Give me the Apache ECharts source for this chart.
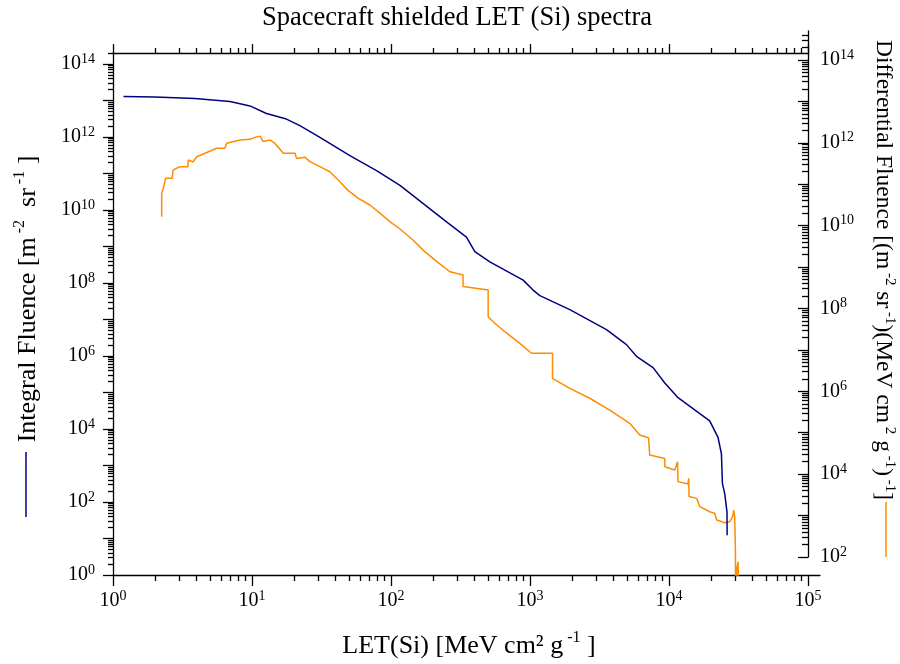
<!DOCTYPE html>
<html>
<head>
<meta charset="utf-8">
<script src="https://cdn.jsdelivr.net/npm/echarts@6/dist/echarts.min.js"></script>
<style>html,body{margin:0;padding:0;background:#fff;}#chart{width:900px;height:664px;}</style>
</head>
<body>
<div id="chart"></div>
<script>
// ---- data ----
const integralLET = [1.19, 2.0, 3.89, 6.94, 9.67, 12.7, 17.7, 22.1, 30.8, 50.6, 78.7, 116, 251, 349, 401, 514, 893, 1052, 1177, 1934, 3550, 4943, 5833, 7680, 9330, 11620, 15740, 19630, 22530, 23830, 24230, 25170, 26140, 26200];
const integralFluence = [1.28e13, 1.24e13, 1.13e13, 9.4e12, 7.1e12, 4.4e12, 3.1e12, 2.04e12, 9.8e11, 3.1e11, 1.2e11, 4.7e10, 4.7e9, 1.8e9, 7.2e8, 3.8e8, 1.2e8, 6.4e7, 4.5e7, 1.86e7, 5.3e6, 2.05e6, 9.8e5, 4.8e5, 1.82e5, 7.2e4, 3.1e4, 1.67e4, 5.9e3, 2.1e3, 320, 170, 53, 12.3];

const diffLET = [2.24, 2.24, 2.30, 2.39, 2.66, 2.71, 3.03, 3.46, 3.48, 3.76, 4.0, 4.59, 5.57, 6.39, 6.57, 8.19, 9.67, 10.5, 11.4, 12.05, 13.5, 14.6, 16.8, 20.4, 20.9, 24.0, 26.1, 30.8, 36.3, 42.9, 48.9, 57.8, 70.5, 83.2, 98.2, 116, 144, 175, 214, 265, 330, 330, 500, 500, 558, 659, 845, 1025, 1452, 1452, 1934, 2692, 3750, 5220, 6160, 7120, 7210, 7270, 9330, 9330, 11020, 11520, 11620, 13640, 13870, 13940, 15850, 16640, 19650, 21330, 21880, 22050, 25170, 27350, 28710, 29180, 29700, 30050, 30200, 30700, 31390, 31740];
const diffFluence = [1.65e10, 6.0e10, 8.0e10, 1.39e11, 1.39e11, 2.2e11, 2.65e11, 2.65e11, 3.85e11, 3.45e11, 4.6e11, 5.6e11, 7.4e11, 7.4e11, 9.7e11, 1.17e12, 1.21e12, 1.35e12, 1.45e12, 1.07e12, 1.17e12, 9.7e11, 5.6e11, 5.6e11, 4.2e11, 4.5e11, 3.5e11, 2.65e11, 2.0e11, 1.15e11, 7.2e10, 4.6e10, 3.15e10, 2.0e10, 1.25e10, 8.3e9, 4.5e9, 2.35e9, 1.35e9, 7.7e8, 6.4e8, 3.4e8, 2.8e8, 6.3e7, 4.4e7, 2.75e7, 1.44e7, 8.3e6, 8.3e6, 2.06e6, 1.18e6, 6.8e5, 3.5e5, 1.69e5, 8.8e4, 7.6e4, 7.3e4, 2.9e4, 2.4e4, 1.51e4, 1.26e4, 2.0e4, 6.6e3, 5.8e3, 7.9e3, 2.9e3, 2.6e3, 1.64e3, 1.24e3, 1.14e3, 1.22e3, 780, 673, 711, 940, 1360, 940, 134, 10, 48.5, 77, 10];

const xMajor = [1, 10, 100, 1e3, 1e4, 1e5];
const xMinor = [];
for (let e = 0; e < 5; e++) for (let m = 2; m <= 9; m++) xMinor.push(m * Math.pow(10, e));
const yLeftMajor = [];
const yLeftLabels = [];
const yLeftMinor = [];
for (let e = 0; e <= 14; e++) { yLeftMajor.push(Math.pow(10, e)); if (e % 2 === 0) yLeftLabels.push(Math.pow(10, e)); }
for (let e = 0; e <= 14; e++) for (let m = 2; m <= 9; m++) { const v = m * Math.pow(10, e); if (v <= 2e14) yLeftMinor.push(v); }
const yRightMajor = [];
const yRightLabels = [];
const yRightMinor = [];
for (let e = 2; e <= 14; e++) { yRightMajor.push(Math.pow(10, e)); if (e % 2 === 0) yRightLabels.push(Math.pow(10, e)); }
for (let e = 2; e <= 14; e++) for (let m = 2; m <= 9; m++) { const v = m * Math.pow(10, e); if (v <= 5e14) yRightMinor.push(v); }

// ---- layout ----
const FONT = 'Liberation Serif';
const PL = 113, PR = 808, PT = 53, PB = 575;   // plot box
const XEND = 820;                               // bottom axis extends a bit
const decX = (PR - PL) / 5;
const xMaxBottom = Math.pow(10, (XEND - PL) / decX);
const RT = 31, RB = 557;                        // right axis extent (5e14 .. 1e2)
const rMin = 100, rMax = 5e14;
const decR = (RB - RT) / Math.log10(rMax / rMin);
const rHidMin = Math.pow(10, 2 - (PB - RB) / decR);
const rHidMax = Math.pow(10, Math.log10(rMax) - (PT - RT) / decR);

function expLabel(v) {
  const e = Math.round(Math.log10(v));
  return '{b|10}{s|' + e + '}';
}
const labelRich = {
  b: { fontFamily: FONT, fontSize: 20, lineHeight: 24, color: '#000' },
  s: { fontFamily: FONT, fontSize: 14, lineHeight: 14, verticalAlign: 'top', color: '#000' }
};
const lineStyle = { color: '#000', width: 1.3 };
const nameRich = (fs) => ({
  t: { fontFamily: FONT, fontSize: fs, lineHeight: Math.round(fs * 1.25) },
  s: { fontFamily: FONT, fontSize: Math.round(fs * 0.62), lineHeight: Math.round(fs * 0.7), verticalAlign: 'top' }
});

const chart = echarts.init(document.getElementById('chart'), null, { renderer: 'canvas' });
const option = {
  backgroundColor: '#fff',
  animation: false,
  grid: [
    { left: PL, right: 900 - XEND, top: PT, bottom: 664 - PB, outerBoundsMode: 'none' },
    { left: PL, right: 900 - PR, top: PT, bottom: 664 - PB, outerBoundsMode: 'none' },
    { left: PL, right: 900 - PR, top: RT, bottom: 664 - RB, outerBoundsMode: 'none' }
  ],
  xAxis: [
    { gridIndex: 0, type: 'log', position: 'bottom', min: 1, max: xMaxBottom,
      axisLine: { show: true, onZero: false, lineStyle },
      axisTick: { show: true, inside: false, length: 11, lineStyle, customValues: xMajor },
      axisLabel: { show: true, margin: 14, customValues: xMajor, formatter: expLabel, rich: labelRich },
      splitLine: { show: false }, minorTick: { show: false } },
    { gridIndex: 0, type: 'log', position: 'bottom', min: 1, max: xMaxBottom,
      axisLine: { show: false },
      axisTick: { show: true, inside: false, length: 6, lineStyle, customValues: xMinor },
      axisLabel: { show: false }, splitLine: { show: false } },
    { gridIndex: 1, type: 'log', position: 'top', min: 1, max: 1e5,
      axisLine: { show: true, onZero: false, lineStyle },
      axisTick: { show: true, inside: false, length: 9, lineStyle, customValues: xMajor },
      axisLabel: { show: false }, splitLine: { show: false } },
    { gridIndex: 1, type: 'log', position: 'top', min: 1, max: 1e5,
      axisLine: { show: false },
      axisTick: { show: true, inside: false, length: 5, lineStyle, customValues: xMinor },
      axisLabel: { show: false }, splitLine: { show: false } },
    { gridIndex: 2, type: 'log', position: 'bottom', min: 1, max: 1e5, show: false }
  ],
  yAxis: [
    { gridIndex: 0, type: 'log', position: 'left', min: 1, max: 2e14,
      axisLine: { show: true, onZero: false, lineStyle },
      axisTick: { show: true, inside: false, length: 10, lineStyle, customValues: yLeftMajor },
      axisLabel: { show: true, margin: 18, customValues: yLeftLabels, formatter: expLabel, rich: labelRich },
      splitLine: { show: false } },
    { gridIndex: 0, type: 'log', position: 'left', min: 1, max: 2e14,
      axisLine: { show: false },
      axisTick: { show: true, inside: false, length: 5, lineStyle, customValues: yLeftMinor },
      axisLabel: { show: false }, splitLine: { show: false } },
    { gridIndex: 0, type: 'log', position: 'right', min: rHidMin, max: rHidMax, show: false },
    { gridIndex: 1, type: 'log', position: 'left', min: 1, max: 2e14, show: false },
    { gridIndex: 2, type: 'log', position: 'right', min: rMin, max: rMax,
      axisLine: { show: true, onZero: false, lineStyle },
      axisTick: { show: true, inside: true, length: 10, lineStyle, customValues: yRightMajor },
      axisLabel: { show: true, margin: 12, customValues: yRightLabels, formatter: expLabel, rich: labelRich },
      splitLine: { show: false } },
    { gridIndex: 2, type: 'log', position: 'right', min: rMin, max: rMax,
      axisLine: { show: false },
      axisTick: { show: true, inside: true, length: 6, lineStyle, customValues: yRightMinor },
      axisLabel: { show: false }, splitLine: { show: false } }
  ],
  series: [
    { name: 'Integral Fluence', type: 'line', xAxisIndex: 0, yAxisIndex: 0,
      data: integralLET.map((x, i) => [x, integralFluence[i]]),
      showSymbol: false, symbol: 'none', lineStyle: { color: '#000080', width: 1.5 }, clip: true, z: 3 },
    { name: 'Differential Fluence', type: 'line', xAxisIndex: 0, yAxisIndex: 2,
      data: diffLET.map((x, i) => [x, diffFluence[i]]),
      showSymbol: false, symbol: 'none', lineStyle: { color: '#ff8c00', width: 1.5 }, clip: true, z: 2 }
  ],
  graphic: [
    { type: 'text', x: 457, y: 18,
      style: { text: 'Spacecraft shielded LET (Si) spectra', font: '26.5px ' + FONT, fill: '#000',
        align: 'center', verticalAlign: 'middle', textAlign: 'center', textVerticalAlign: 'middle' } },
    { type: 'text', x: 469, y: 646,
      style: { text: '{t|LET(Si) [MeV cm² g}{s| -1}{t| ]}', fill: '#000', rich: nameRich(26),
        align: 'center', verticalAlign: 'middle', textAlign: 'center', textVerticalAlign: 'middle' } },
    { type: 'text', x: 28, y: 299, rotation: Math.PI / 2,
      style: { text: '{t|Integral Fluence [m}{s| -2}{t|  sr}{s| -1}{t| ]}', fill: '#000', rich: nameRich(26),
        align: 'center', verticalAlign: 'middle', textAlign: 'center', textVerticalAlign: 'middle' } },
    { type: 'line', shape: { x1: 26, y1: 452, x2: 26, y2: 517 }, style: { stroke: '#000080', lineWidth: 1.5 } },
    { type: 'text', x: 883, y: 270, rotation: -Math.PI / 2,
      style: { text: '{t|Differential Fluence [(m}{s| -2}{t| sr}{s| -1}{t|)(MeV cm}{s| 2}{t| g}{s| -1}{t|)}{s| -1}{t|]}', fill: '#000', rich: nameRich(23.5),
        align: 'center', verticalAlign: 'middle', textAlign: 'center', textVerticalAlign: 'middle' } },
    { type: 'line', shape: { x1: 886, y1: 502, x2: 886, y2: 557 }, style: { stroke: '#ff8c00', lineWidth: 1.5 } }
  ]
};
chart.setOption(option);
</script>
</body>
</html>
